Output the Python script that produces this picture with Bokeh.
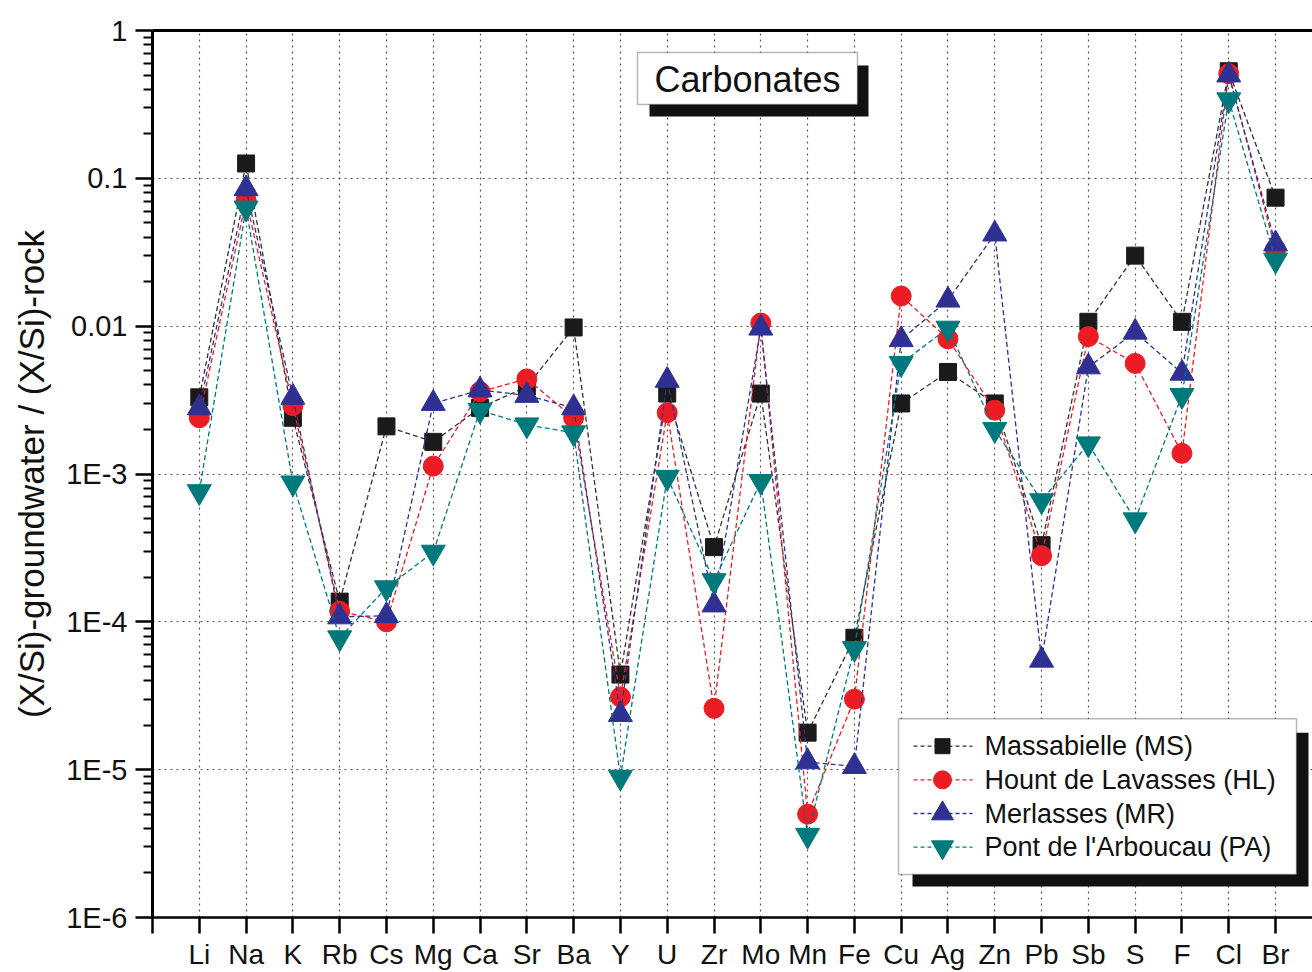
import math
from bokeh.plotting import figure
from bokeh.models import Range1d, FixedTicker, LinearAxis, BoxAnnotation, Label
from bokeh.embed import file_html
from bokeh.resources import INLINE

# ---------------- data ----------------
elements = ["Li", "Na", "K", "Rb", "Cs", "Mg", "Ca", "Sr", "Ba", "Y", "U", "Zr",
            "Mo", "Mn", "Fe", "Cu", "Ag", "Zn", "Pb", "Sb", "S", "F", "Cl", "Br"]

ms = [3.3e-3, 0.126, 2.4e-3, 1.37e-4, 2.1e-3, 1.65e-3, 2.8e-3, 3.9e-3, 9.8e-3, 4.4e-5,
      3.5e-3, 3.2e-4, 3.5e-3, 1.78e-5, 7.8e-5, 3.0e-3, 4.9e-3, 3.0e-3, 3.3e-4, 1.07e-2,
      3.0e-2, 1.07e-2, 0.53, 0.074]
hl = [2.4e-3, 0.071, 2.9e-3, 1.18e-4, 1.0e-4, 1.13e-3, 3.6e-3, 4.4e-3, 2.4e-3, 3.1e-5,
      2.6e-3, 2.6e-5, 1.05e-2, 5.0e-6, 3.0e-5, 1.6e-2, 8.2e-3, 2.7e-3, 2.8e-4, 8.5e-3,
      5.6e-3, 1.38e-3, 0.51, 0.033]
mr = [2.8e-3, 0.085, 3.3e-3, 1.08e-4, 1.1e-4, 3.0e-3, 3.7e-3, 3.4e-3, 2.8e-3, 2.36e-5,
      4.3e-3, 1.3e-4, 9.7e-3, 1.13e-5, 1.05e-5, 8.1e-3, 1.5e-2, 4.2e-2, 5.5e-5, 5.3e-3,
      9.1e-3, 4.8e-3, 0.50, 0.036]
pa = [7.6e-4, 0.063, 8.7e-4, 7.8e-5, 1.7e-4, 2.96e-4, 2.7e-3, 2.15e-3, 1.9e-3, 8.9e-6,
      9.5e-4, 1.9e-4, 8.9e-4, 3.6e-6, 6.6e-5, 5.6e-3, 9.7e-3, 2.0e-3, 6.6e-4, 1.6e-3,
      4.9e-4, 3.4e-3, 0.34, 0.028]

series_names = ["Massabielle (MS)", "Hount de Lavasses (HL)", "Merlasses (MR)",
                "Pont de l'Arboucau (PA)"]
y_ticks = [1e-6, 1e-5, 1e-4, 1e-3, 1e-2, 1e-1, 1]
y_tick_labels = ["1E-6", "1E-5", "1E-4", "1E-3", "0.01", "0.1", "1"]

# ---------------- styling ----------------
FONT = "Liberation Sans"
W, H = 1312, 972
F_LEFT, F_TOP, F_BOTTOM, F_RIGHT = 152, 30, 918, 1312
X_END = 24.79

def fx(px):
    return (px - F_LEFT) / (F_RIGHT - F_LEFT) * X_END

def fy(py):
    return 10 ** (-(py - F_TOP) / ((F_BOTTOM - F_TOP) / 6.0))

x = list(range(1, len(elements) + 1))

p = figure(width=W, height=H, x_range=Range1d(0, X_END), y_range=Range1d(1e-6, 1),
           y_axis_type="log", output_backend="svg", toolbar_location=None,
           min_border_left=F_LEFT, min_border_right=0, min_border_top=F_TOP,
           min_border_bottom=H - F_BOTTOM)
p.outline_line_color = None
p.background_fill_color = "white"
p.border_fill_color = "white"

# x axis
xa = p.xaxis[0]
xa.ticker = FixedTicker(ticks=list(range(0, 25)))
xa.major_label_overrides = {0: ""} | {i + 1: e for i, e in enumerate(elements)}
xa.axis_line_width = 2.5
xa.major_tick_line_width = 2.5
xa.major_tick_out = 16
xa.major_tick_in = 0
xa.minor_tick_line_color = None
xa.major_label_standoff = 5
xa.major_label_text_font = FONT
xa.major_label_text_font_size = "28px"
xa.major_label_text_color = "#111111"

# y axis
ya = p.yaxis[0]
minors = [k * 10 ** e for e in range(-6, 0) for k in range(2, 10)]
ya.ticker = FixedTicker(ticks=y_ticks, minor_ticks=minors)
ya.major_label_overrides = {t: l for t, l in zip(y_ticks, y_tick_labels)}
ya.axis_line_width = 3
ya.major_tick_line_width = 2.5
ya.minor_tick_line_width = 2
ya.major_tick_out = 17
ya.major_tick_in = 0
ya.minor_tick_out = 9
ya.minor_tick_in = 0
ya.major_label_standoff = 8
ya.major_label_text_font = FONT
ya.major_label_text_font_size = "29px"
ya.major_label_text_color = "#111111"
ya.axis_label = "(X/Si)-groundwater / (X/Si)-rock"
ya.axis_label_text_font = FONT
ya.axis_label_text_font_size = "35px"
ya.axis_label_text_font_style = "normal"
ya.axis_label_text_color = "#111111"
ya.axis_label_standoff = 12

# top frame line
top_axis = LinearAxis(ticker=FixedTicker(ticks=[]), axis_line_width=3,
                      major_label_text_font_size="0px", major_tick_line_color=None,
                      minor_tick_line_color=None)
p.add_layout(top_axis, "above")

# grid
p.xgrid.ticker = FixedTicker(ticks=list(range(1, 25)))
p.ygrid.ticker = FixedTicker(ticks=y_ticks)
for g in (p.xgrid, p.ygrid):
    g.grid_line_color = "#555555"
    g.grid_line_dash = "2 4"
    g.grid_line_width = 1.2

# series
styles = [
    dict(vals=ms, marker="square", size=17, fill="#1a1a1a", line="#333333"),
    dict(vals=hl, marker="circle", size=20, fill="#ec1c24", line="#ec1c24"),
    dict(vals=mr, marker="triangle", size=24, fill="#2e3192", line="#2e3192"),
    dict(vals=pa, marker="inverted_triangle", size=24, fill="#00797c", line="#00797c"),
]
for st in styles:
    p.line(x, st["vals"], line_color=st["line"], line_width=1.3, line_dash="5 3")
    p.scatter(x, st["vals"], marker=st["marker"], size=st["size"],
              fill_color=st["fill"], line_color=st["fill"], line_width=1)

# "Carbonates" box with shadow
p.add_layout(BoxAnnotation(left=fx(649), right=fx(868), top=fy(65), bottom=fy(116),
                           fill_color="#111111", fill_alpha=1, line_color=None))
p.add_layout(BoxAnnotation(left=fx(637), right=fx(857), top=fy(52), bottom=fy(104),
                           fill_color="white", fill_alpha=1, line_color="#111111",
                           line_width=1.5))
p.add_layout(Label(x=fx(747), y=fy(79), text="Carbonates", text_align="center",
                   text_baseline="middle", text_font=FONT, text_font_size="36px",
                   text_color="#111111"))

# legend: shadow, box, and entries (drawn as annotation graphics)
p.add_layout(BoxAnnotation(left=fx(912), right=fx(1308), top=fy(733), bottom=fy(887),
                           fill_color="#111111", fill_alpha=1, line_color=None,
                           level="annotation"))
p.add_layout(BoxAnnotation(left=fx(898), right=fx(1296), top=fy(719), bottom=fy(875),
                           fill_color="white", fill_alpha=1, line_color="#111111",
                           line_width=1.5, level="annotation"))
for k, (name, st) in enumerate(zip(series_names, styles)):
    cy = fy(746.5 + 33.7 * k)
    p.line([fx(913), fx(972)], [cy, cy], line_color=st["line"], line_width=1.3,
           line_dash="4 3", level="overlay")
    p.scatter([fx(942)], [cy], marker=st["marker"], size=st["size"] - 2,
              fill_color=st["fill"], line_color=st["fill"], level="overlay")
    p.add_layout(Label(x=fx(984), y=cy, text=name, text_align="left",
                       text_baseline="middle", text_font=FONT, text_font_size="27px",
                       text_color="#111111", level="overlay"))

open("out.html", "w").write(file_html(p, INLINE))
